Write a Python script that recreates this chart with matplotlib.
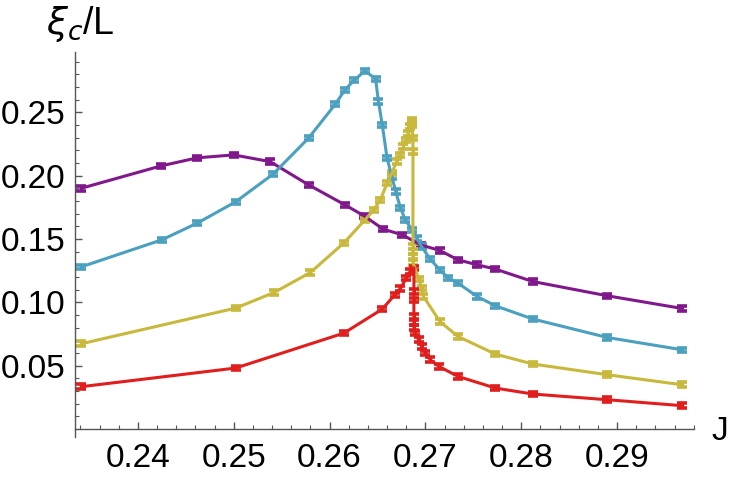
import numpy as np
import matplotlib
matplotlib.use("Agg")
import matplotlib.pyplot as plt

# dati
J_viola = [0.2341, 0.2424, 0.2462, 0.2500, 0.2538, 0.2578, 0.2616, 0.2636, 0.2656,
           0.2676, 0.2695, 0.2715, 0.2734, 0.2754, 0.2773, 0.2812, 0.2890, 0.2968]
xi_viola = [0.190, 0.2076, 0.214, 0.2163, 0.211, 0.1927, 0.1769, 0.1682, 0.1577,
            0.1532, 0.1453, 0.1409, 0.1335, 0.1296, 0.1262, 0.1164, 0.1051, 0.0951]

J_blu = [0.2341, 0.2425, 0.2462, 0.2502, 0.2541, 0.2578, 0.2606, 0.2616, 0.2626,
         0.2637, 0.2648, 0.2651, 0.2655, 0.2660, 0.2665, 0.2669, 0.2674, 0.2679,
         0.2686, 0.2691, 0.2696, 0.2705, 0.2715, 0.2724, 0.2734, 0.2754, 0.2773,
         0.2812, 0.2890, 0.2968]
xi_blu = [0.128, 0.1493, 0.1625, 0.1793, 0.2011, 0.2295, 0.2563, 0.2676, 0.2755,
          0.2826, 0.2763, 0.2584, 0.2400, 0.2137, 0.1992, 0.1874, 0.1743, 0.1651,
          0.1572, 0.1505, 0.1440, 0.1341, 0.1256, 0.1191, 0.1151, 0.1046, 0.0972,
          0.0868, 0.0722, 0.0625]

J_giallo = [0.2341, 0.2502, 0.2542, 0.2580, 0.2615, 0.2637, 0.2646, 0.2653, 0.2660,
            0.2665, 0.2670, 0.2674, 0.2677, 0.2680, 0.2682, 0.2684, 0.2686, 0.2686,
            0.2686, 0.2687, 0.2687, 0.2687, 0.2687, 0.2687, 0.2687, 0.2693, 0.2696,
            0.2698, 0.2715, 0.2734, 0.2773, 0.2812, 0.2890, 0.2968]
xi_giallo = [0.0673, 0.0954, 0.1077, 0.1235, 0.1469, 0.1651, 0.1729, 0.1808, 0.1940,
             0.2019, 0.2110, 0.2163, 0.2229, 0.2282, 0.2334, 0.2386, 0.2439, 0.2420,
             0.2400, 0.2295, 0.2189, 0.1438, 0.1400, 0.1360, 0.1312, 0.1185, 0.1114,
             0.1046, 0.0849, 0.0730, 0.0591, 0.0513, 0.0428, 0.0349]

J_rosso = [0.2341, 0.2502, 0.2615, 0.2655, 0.2668, 0.2674, 0.2680, 0.2684, 0.2688,
           0.2688, 0.2688, 0.2688, 0.2688, 0.2688, 0.2689, 0.2693, 0.2696, 0.2700,
           0.2705, 0.2714, 0.2734, 0.2773, 0.2812, 0.2890, 0.2968]
xi_rosso = [0.0334, 0.0481, 0.0757, 0.0946, 0.1059, 0.1110, 0.1191, 0.1243, 0.1272,
            0.1083, 0.1017, 0.0888, 0.0840, 0.0800, 0.0757, 0.0705, 0.0651, 0.0599,
            0.0547, 0.0494, 0.0415, 0.0323, 0.0276, 0.0231, 0.0184]

x_ticks = [0.24, 0.25, 0.26, 0.27, 0.28, 0.29]
y_ticks = [0.05, 0.10, 0.15, 0.20, 0.25]

plt.rcParams['font.family'] = ['Liberation Sans', 'DejaVu Sans']

fig = plt.figure(figsize=(7.3, 4.78), dpi=100)
ax = fig.add_axes([0.1027, 0.1025, 0.848, 0.7887])

serie = [(J_viola, xi_viola, '#80188c'),
         (J_blu, xi_blu, '#4aa0be'),
         (J_giallo, xi_giallo, '#c8b83c'),
         (J_rosso, xi_rosso, '#e01e1e')]

# barre d'errore con cappucci spessi: da vicino sembrano piccoli rettangoli
for J, xi, c in serie:
    ax.errorbar(J, xi, yerr=0.0018, color=c, lw=2.2, elinewidth=2.2,
                capsize=3.4, capthick=2.6)

ax.set_xlim(0.23343, 0.29803)
ax.set_ylim(0, 0.2975)

# stile "Mathematica": solo assi sinistro e basso, tacche verso l'interno
for s in ['top', 'right']:
    ax.spines[s].set_visible(False)
for s in ['left', 'bottom']:
    ax.spines[s].set_color('#555555')
    ax.spines[s].set_linewidth(1.0)
ax.spines['left'].set_bounds(-0.006, 0.2975)

ax.set_xticks(x_ticks)
ax.set_xticklabels(['%.2f' % t for t in x_ticks])
ax.set_yticks(y_ticks)
ax.set_yticklabels(['%.2f' % t for t in y_ticks])
ax.set_xticks(np.arange(0.234, 0.2981, 0.002), minor=True)
ax.set_yticks(np.arange(0.0, 0.2975, 0.01), minor=True)

ax.tick_params(which='both', direction='in', color='#555555', labelsize=24,
               labelcolor='black')
ax.tick_params(which='major', length=5, width=1)
ax.tick_params(which='minor', length=3, width=0.8)
ax.tick_params(axis='x', pad=10)
ax.tick_params(axis='y', pad=7)

fig.text(46 / 730, 1 - 34 / 478, r'$\xi_c$/L', fontsize=27, va='baseline')
fig.text(711 / 730, 1 - 432 / 478, 'J', fontsize=24, va='center')

plt.savefig("out.png", dpi=100)
